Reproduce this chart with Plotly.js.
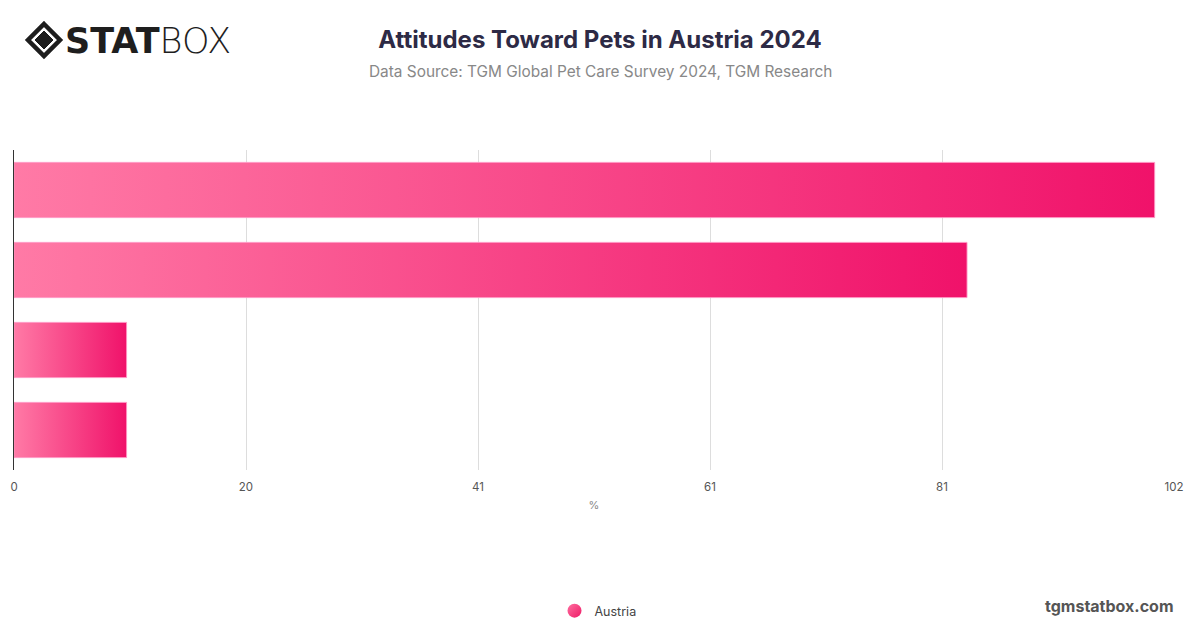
<!DOCTYPE html>
<html>
<head>
<meta charset="utf-8">
<script src="https://cdn.plot.ly/plotly-3.0.1.min.js"></script>
<style>
  html, body { margin: 0; padding: 0; background: #ffffff; }
  #chart { width: 1200px; height: 628px; }
</style>
</head>
<body>
<div id="chart"></div>
<script>
// ---- data ----
var categories = [
  "Pets are part of the family",
  "Pets improve well-being",
  "Pets are a burden",
  "Pets are not important"
];
var seriesName = "Austria";
var values = [100.3, 83.8, 9.9, 9.9];
var tickValues = [0, 20.4, 40.8, 61.2, 81.6, 102];
var tickLabels = ["0", "20", "41", "61", "81", "102"];
var axisRange = [0, 102];

var W = 1200, H = 628;
var mL = 14, mR = 26, mT = 150, mB = 158;
var plotW = W - mL - mR, plotH = H - mT - mB;
function px(x) { return (x - mL) / plotW; }
function py(y) { return (H - mB - y) / plotH; }
function cy(y) { return 1 - y / H; }
function cx(x) { return x / W; }

var barTrace = {
  type: "bar",
  orientation: "h",
  x: values,
  y: categories,
  name: seriesName,
  showlegend: false,
  marker: { color: "#f5387c", line: { color: "rgba(255,150,195,0.9)", width: 1 } },
  hoverinfo: "x"
};
var legendTrace = {
  type: "scatter",
  mode: "markers",
  x: [null],
  y: [null],
  name: seriesName,
  marker: { symbol: "circle", size: 14, color: "#f4407f" },
  showlegend: true
};

var shapes = [
  { type: "path", xref: "paper", yref: "paper",
    path: "M " + px(44) + "," + py(24) + " L " + px(60) + "," + py(40) + " L " + px(44) + "," + py(56) + " L " + px(28) + "," + py(40) + " Z",
    line: { color: "#1e1e1e", width: 4.5 }, fillcolor: "rgba(0,0,0,0)" },
  { type: "path", xref: "paper", yref: "paper",
    path: "M " + px(44) + "," + py(31) + " L " + px(53) + "," + py(40) + " L " + px(44) + "," + py(49) + " L " + px(35) + "," + py(40) + " Z",
    line: { color: "#1e1e1e", width: 1 }, fillcolor: "#1e1e1e" }
];

var annotations = [
  { xref: "paper", yref: "paper", x: px(63), y: py(41), xanchor: "left", yanchor: "middle",
    showarrow: false,
    text: "<b>STAT</b><span style='font-weight:300'>BOX</span>",
    font: { family: "DejaVu Sans", size: 35, color: "#1e1e1e" } },
  { xref: "paper", yref: "paper", x: px(600), y: py(71), xanchor: "center", yanchor: "middle",
    showarrow: false,
    text: "Data Source: TGM Global Pet Care Survey 2024, TGM Research",
    font: { family: "Inter", size: 15.4, color: "#888888" } },
  { xref: "paper", yref: "paper", x: px(1176), y: py(606), xanchor: "right", yanchor: "middle",
    showarrow: false,
    text: "<b>tgmstatbox.com</b>",
    font: { family: "Inter", size: 16, color: "#555555" } }
];

var layout = {
  width: W, height: H,
  margin: { l: mL, r: mR, t: mT, b: mB, pad: 0, autoexpand: false },
  paper_bgcolor: "#ffffff",
  plot_bgcolor: "#ffffff",
  font: { family: "Inter", color: "#555555" },
  title: {
    text: "<b>Attitudes Toward Pets in Austria 2024</b>",
    xref: "container", x: 0.5, xanchor: "center",
    yref: "container", y: cy(40), yanchor: "middle",
    font: { family: "Inter", size: 24, color: "#2d2a45" }
  },
  bargap: 0.31,
  xaxis: {
    range: axisRange,
    tickmode: "array",
    tickvals: tickValues,
    ticktext: tickLabels,
    showgrid: true,
    gridcolor: "#dddddd",
    gridwidth: 1,
    zeroline: false,
    showline: false,
    ticks: "",
    ticklabelstandoff: 8,
    automargin: false,
    tickfont: { family: "Inter", size: 11.5, color: "#555555" },
    title: { text: "%", standoff: 8, font: { family: "Inter", size: 11, color: "#888888" } },
    fixedrange: true
  },
  yaxis: {
    type: "category",
    autorange: "reversed",
    showticklabels: false,
    showgrid: false,
    zeroline: false,
    showline: true,
    linecolor: "#333333",
    linewidth: 1,
    ticks: "",
    automargin: false,
    fixedrange: true
  },
  showlegend: true,
  legend: {
    orientation: "h",
    xref: "container", x: cx(598), xanchor: "center",
    yref: "container", y: cy(611), yanchor: "middle",
    font: { family: "Inter", size: 12.5, color: "#444444" },
    bgcolor: "rgba(0,0,0,0)"
  },
  shapes: shapes,
  annotations: annotations
};

Plotly.newPlot("chart", [barTrace, legendTrace], layout, { displayModeBar: false, staticPlot: true }).then(function (gd) {
  var svg = gd.querySelector(".main-svg");
  var NS = "http://www.w3.org/2000/svg";
  var defs = svg.querySelector("defs");
  if (!defs) { defs = document.createElementNS(NS, "defs"); svg.insertBefore(defs, svg.firstChild); }
  function makeGrad(id, c1, c2, dir) {
    var g = document.createElementNS(NS, "linearGradient");
    g.setAttribute("id", id);
    g.setAttribute("x1", "0"); g.setAttribute("y1", "0");
    g.setAttribute("x2", "1"); g.setAttribute("y2", dir === "h" ? "0" : "1");
    var s1 = document.createElementNS(NS, "stop");
    s1.setAttribute("offset", "0%"); s1.setAttribute("stop-color", c1);
    var s2 = document.createElementNS(NS, "stop");
    s2.setAttribute("offset", "100%"); s2.setAttribute("stop-color", c2);
    g.appendChild(s1); g.appendChild(s2);
    defs.appendChild(g);
  }
  makeGrad("barGrad", "#ff7aa6", "#f0126a", "h");
  makeGrad("dotGrad", "#ff6fa0", "#ee1a66", "d");
  gd.querySelectorAll(".barlayer .point path").forEach(function (p) {
    p.style.fill = "url(#barGrad)";
  });
  gd.querySelectorAll(".legend .scatterpts, .legend path.scatterpts").forEach(function (p) {
    p.style.fill = "url(#dotGrad)";
  });
});
</script>
</body>
</html>
